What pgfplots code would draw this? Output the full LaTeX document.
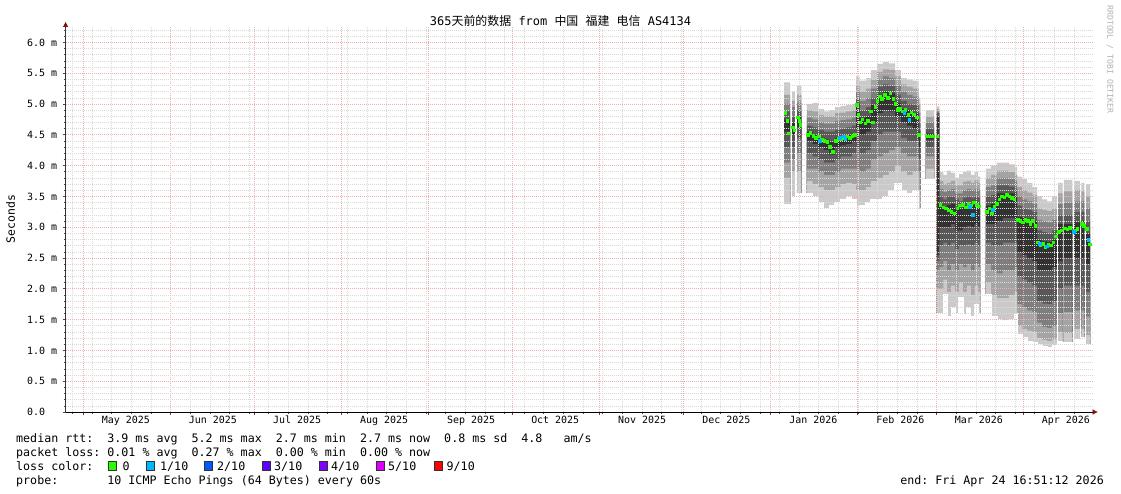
\documentclass[border=0pt]{standalone}
\usepackage{fontspec}
\setmainfont{DejaVu Sans Mono}
\newfontfamily\cjk{Noto Sans CJK SC}
\usepackage{pgfplots}
\usepackage{pgfplotstable}
\pgfplotsset{compat=1.18}
\usetikzlibrary{arrows.meta}

\definecolor{sA}{RGB}{202,202,202}
\definecolor{sB}{RGB}{164,164,164}
\definecolor{sC}{RGB}{126,126,126}
\definecolor{sD}{RGB}{88,88,88}
\definecolor{sE}{RGB}{50,50,50}
\definecolor{l0}{RGB}{38,255,0}
\definecolor{l1}{RGB}{0,184,255}
\definecolor{l2}{RGB}{0,89,255}
\definecolor{l3}{RGB}{94,0,255}
\definecolor{l4}{RGB}{126,0,255}
\definecolor{l5}{RGB}{221,0,255}
\definecolor{l9}{RGB}{255,0,0}
\definecolor{mgrid}{RGB}{242,175,175}
\definecolor{ngrid}{RGB}{218,218,218}
\definecolor{arrowred}{RGB}{128,20,20}

\pgfplotstableread{
x p1 p2 p3 p4 p5 p6 p7 p8 p9 p10
256.1 3.36 3.80 4.05 4.30 4.55 4.75 4.88 5.00 5.15 5.35
258.2 0 0 0 0 0 0 0 0 0 0
258.9 3.50 3.90 4.10 4.30 4.50 4.70 4.80 4.95 5.05 5.20
259.9 0 0 0 0 0 0 0 0 0 0
260.7 3.55 3.90 4.20 4.45 4.62 4.80 4.90 5.02 5.15 5.30
262.2 0 0 0 0 0 0 0 0 0 0
264.2 3.55 3.75 3.95 4.20 4.40 4.55 4.65 4.78 4.90 5.00
266.2 3.50 3.70 3.95 4.15 4.35 4.50 4.62 4.75 4.88 5.02
268.2 3.40 3.65 3.90 4.10 4.30 4.45 4.58 4.70 4.82 4.92
270.2 3.30 3.60 3.85 4.05 4.25 4.42 4.55 4.68 4.80 4.88
272.2 3.35 3.60 3.85 4.05 4.18 4.38 4.55 4.68 4.80 4.90
274.2 3.40 3.65 3.90 4.10 4.30 4.45 4.58 4.72 4.85 4.95
276.2 3.45 3.70 3.95 4.15 4.33 4.48 4.60 4.74 4.86 4.97
278.2 3.50 3.72 3.95 4.15 4.35 4.50 4.62 4.75 4.88 4.98
280.2 3.45 3.70 3.95 4.20 4.38 4.52 4.65 4.78 4.90 5.00
281.7 3.33 3.60 3.95 4.30 4.60 5.00 5.10 5.20 5.30 5.45
283.0 3.35 3.60 3.90 4.20 4.50 4.78 4.90 5.05 5.20 5.38
285.2 3.40 3.65 3.95 4.25 4.55 4.80 4.95 5.10 5.25 5.42
287.0 3.45 3.75 4.10 4.40 4.70 4.98 5.10 5.25 5.40 5.55
289.2 3.45 3.80 4.15 4.50 4.85 5.15 5.28 5.40 5.52 5.65
291.3 3.50 3.85 4.20 4.55 4.90 5.20 5.32 5.45 5.56 5.68
293.4 3.60 3.90 4.25 4.55 4.88 5.18 5.30 5.42 5.55 5.66
295.6 3.70 4.00 4.30 4.55 4.80 5.02 5.15 5.30 5.45 5.55
297.7 3.60 3.90 4.20 4.45 4.70 4.92 5.05 5.20 5.32 5.42
299.8 3.55 3.85 4.15 4.40 4.65 4.90 5.00 5.15 5.28 5.40
301.9 3.60 3.90 4.15 4.40 4.60 4.85 4.98 5.12 5.25 5.38
304.0 3.28 3.60 3.90 4.10 4.30 4.55 4.70 4.85 5.00 5.10
304.6 0 0 0 0 0 0 0 0 0 0
306.6 3.77 3.95 4.15 4.30 4.42 4.52 4.60 4.70 4.80 4.90
309.5 0 0 0 0 0 0 0 0 0 0
310.4 1.60 2.00 2.30 2.45 2.55 4.80 4.85 4.88 4.92 4.96
311.4 1.60 2.00 2.35 2.70 3.00 3.35 3.50 3.62 3.75 3.90
312.8 1.90 2.15 2.45 2.75 3.00 3.33 3.45 3.57 3.70 3.85
314.2 1.55 1.95 2.30 2.70 3.00 3.36 3.50 3.60 3.72 3.92
315.6 1.70 2.05 2.40 2.75 3.05 3.38 3.50 3.62 3.75 3.88
317.0 1.60 1.95 2.30 2.65 2.95 3.30 3.45 3.55 3.68 3.80
318.4 1.85 2.10 2.40 2.70 2.95 3.30 3.42 3.55 3.68 3.86
319.8 1.58 1.95 2.35 2.70 3.00 3.35 3.48 3.60 3.74 3.90
321.2 1.70 2.05 2.40 2.72 3.02 3.38 3.50 3.62 3.75 3.92
322.6 1.55 1.90 2.30 2.70 3.00 3.36 3.48 3.60 3.72 3.85
324.0 1.75 2.05 2.40 2.75 3.05 3.40 3.50 3.62 3.76 3.90
325.2 1.60 1.95 2.35 2.70 3.00 3.35 3.48 3.60 3.72 3.82
325.9 0 0 0 0 0 0 0 0 0 0
328.0 1.90 2.10 2.40 2.75 3.05 3.35 3.50 3.65 3.80 3.95
329.8 1.55 1.90 2.30 2.70 3.05 3.38 3.52 3.68 3.85 4.00
331.9 1.50 1.85 2.25 2.70 3.10 3.55 3.68 3.80 3.92 4.05
334.0 1.48 1.85 2.30 2.75 3.15 3.55 3.68 3.80 3.92 4.05
336.2 1.50 1.90 2.30 2.75 3.15 3.55 3.66 3.78 3.90 4.02
338.3 1.60 1.95 2.35 2.75 3.10 3.50 3.62 3.74 3.85 3.98
339.1 1.25 1.40 1.75 2.20 2.60 3.17 3.35 3.50 3.65 3.82
340.9 1.20 1.35 1.70 2.15 2.55 3.15 3.30 3.45 3.60 3.78
342.7 1.15 1.32 1.65 2.10 2.50 3.13 3.28 3.42 3.56 3.72
344.5 1.12 1.30 1.62 2.05 2.45 3.10 3.25 3.38 3.52 3.65
346.2 1.10 1.20 1.45 1.80 2.30 2.80 2.95 3.12 3.30 3.50
348.0 1.06 1.17 1.38 1.76 2.30 2.77 2.92 3.10 3.28 3.45
349.8 1.05 1.15 1.36 1.75 2.30 2.76 2.90 3.08 3.26 3.42
351.6 1.07 1.18 1.40 1.80 2.35 2.80 2.95 3.12 3.30 3.50
353.3 0 0 0 0 0 0 0 0 0 0
353.7 1.15 1.30 1.60 2.00 2.45 3.05 3.20 3.38 3.55 3.72
355.3 0 0 0 0 0 0 0 0 0 0
355.8 1.12 1.28 1.62 2.05 2.50 3.05 3.20 3.40 3.58 3.77
358.8 0 0 0 0 0 0 0 0 0 0
359.4 1.18 1.35 1.65 2.05 2.50 3.08 3.25 3.42 3.60 3.75
361.5 0 0 0 0 0 0 0 0 0 0
362.0 1.20 1.35 1.65 2.05 2.50 3.10 3.25 3.42 3.58 3.72
363.1 0 0 0 0 0 0 0 0 0 0
363.7 1.10 1.25 1.55 1.95 2.40 2.90 3.10 3.30 3.50 3.70
365.1 0 0 0 0 0 0 0 0 0 0
}\smoke

\pgfplotstableread{
x y
256.6 4.85
257.2 4.72
257.8 4.52
259.3 4.62
259.7 4.57
261.0 4.78
261.5 4.72
261.9 4.66
264.5 4.50
265.5 4.53
266.5 4.48
267.5 4.45
268.5 4.47
269.5 4.42
270.5 4.40
271.5 4.38
272.5 4.30
273.5 4.22
274.5 4.40
275.5 4.43
276.5 4.42
277.5 4.45
278.5 4.47
279.5 4.45
280.5 4.47
281.3 4.50
282.0 4.98
282.6 4.82
283.3 4.70
284.0 4.75
285.0 4.68
286.0 4.72
287.0 4.88
287.8 4.70
288.6 4.95
289.4 5.05
290.2 5.12
291.0 5.08
292.0 5.15
293.0 5.10
294.0 5.17
295.0 5.08
295.8 5.00
296.6 4.90
297.4 4.93
298.4 4.88
299.4 4.90
300.4 4.82
301.4 4.86
302.4 4.83
303.4 4.78
304.2 4.50
306.8 4.47
307.6 4.47
308.4 4.47
309.2 4.47
310.7 4.47
311.8 3.36
312.8 3.32
313.8 3.30
314.8 3.27
315.8 3.25
316.8 3.22
317.8 3.30
318.8 3.35
319.8 3.36
320.8 3.32
321.8 3.38
322.8 3.35
323.8 3.40
324.8 3.36
325.5 3.34
328.3 3.25
329.2 3.30
330.1 3.22
331.0 3.33
331.9 3.38
332.8 3.45
333.7 3.50
334.6 3.48
335.5 3.52
336.4 3.50
337.3 3.47
338.2 3.45
339.4 3.12
340.3 3.10
341.2 3.08
342.1 3.12
343.0 3.10
343.9 3.05
344.8 3.10
345.7 3.02
346.6 2.75
347.5 2.70
348.4 2.73
349.3 2.68
350.2 2.72
351.1 2.70
352.0 2.75
352.9 2.85
354.0 2.92
355.0 2.95
356.2 2.98
357.1 2.96
358.0 2.99
359.8 2.95
360.7 2.97
362.3 3.05
362.9 3.02
364.0 2.97
365.0 2.72
}\medgreen

\pgfplotstableread{
x y
268.8 4.40
275.9 4.45
277.4 4.47
277.9 4.42
299.0 4.85
300.8 4.74
322.4 3.33
323.4 3.20
330.5 3.28
347.3 2.73
349.8 2.69
359.4 2.92
364.6 2.79
}\medcyan

\begin{document}
\begin{tikzpicture}
\useasboundingbox (0,0) rectangle (1121bp,494bp);
\begin{axis}[
  at={(65.6bp,82bp)}, anchor=south west,
  scale only axis, width=1027bp, height=385bp,
  xmin=0, xmax=366, ymin=0, ymax=6.25,
  axis lines=left, axis on top,
  x axis line style={black, line width=0.8bp, -{Triangle[length=5bp,width=5bp,color=arrowred]}, shorten >=-5bp},
  y axis line style={black!80, line width=0.8bp, -{Triangle[length=5bp,width=5bp,color=arrowred]}, shorten >=-5bp},
  xtick={6.3,37.3,67.3,98.3,129.3,159.3,190.3,220.3,251.3,282.3,310.3,341.3},
  xticklabels={},
  minor xtick={2.4,9.4,...,366},
  extra x ticks={21.5,52.5,82.5,113.5,144.5,174.5,205.5,235.5,266.5,297.5,325.5,356.5},
  extra x tick labels={May 2025,Jun 2025,Jul 2025,Aug 2025,Sep 2025,Oct 2025,Nov 2025,Dec 2025,Jan 2026,Feb 2026,Mar 2026,Apr 2026},
  extra x tick style={grid=none, major tick length=0pt},
  ytick={0,0.5,...,6},
  yticklabels={0.0,0.5 m,1.0 m,1.5 m,2.0 m,2.5 m,3.0 m,3.5 m,4.0 m,4.5 m,5.0 m,5.5 m,6.0 m},
  minor y tick num=4,
  extra y ticks={6.1,6.2},
  extra y tick labels={},
  extra y tick style={major grid style={ngrid, line width=0.6bp, dash pattern=on 1bp off 1bp}, major tick length=2bp},
  xmajorgrids, ymajorgrids, xminorgrids, yminorgrids,
  major grid style={mgrid, line width=0.6bp, dash pattern=on 1bp off 1bp},
  minor grid style={ngrid, line width=0.6bp, dash pattern=on 1bp off 1bp},
  tick align=outside,
  major tick length=3bp, minor tick length=2bp,
  tick style={black!70, line width=0.6bp},
  xticklabel style={font=\fontsize{10}{12}\selectfont, anchor=north, inner sep=0pt, yshift=-4bp},
  yticklabel style={font=\fontsize{10}{12}\selectfont, anchor=west, inner sep=0pt, xshift=-35.6bp},
]
\addplot[const plot, draw=none, fill=sA] table[x=x,y=p10]{\smoke} \closedcycle;
\addplot[const plot, draw=none, fill=sB] table[x=x,y=p9]{\smoke} \closedcycle;
\addplot[const plot, draw=none, fill=sC] table[x=x,y=p8]{\smoke} \closedcycle;
\addplot[const plot, draw=none, fill=sD] table[x=x,y=p7]{\smoke} \closedcycle;
\addplot[const plot, draw=none, fill=sE] table[x=x,y=p6]{\smoke} \closedcycle;
\addplot[const plot, draw=none, fill=sD] table[x=x,y=p5]{\smoke} \closedcycle;
\addplot[const plot, draw=none, fill=sC] table[x=x,y=p4]{\smoke} \closedcycle;
\addplot[const plot, draw=none, fill=sB] table[x=x,y=p3]{\smoke} \closedcycle;
\addplot[const plot, draw=none, fill=sA] table[x=x,y=p2]{\smoke} \closedcycle;
\addplot[const plot, draw=white, line width=1.2bp, fill=white] table[x=x,y=p1]{\smoke} \closedcycle;
\addplot[l0, only marks, mark=square*, mark size=1.25bp, mark options={draw=l0, fill=l0, line width=0pt}] table[x=x,y=y]{\medgreen};
\addplot[l1, only marks, mark=square*, mark size=1.25bp, mark options={draw=l1, fill=l1, line width=0pt}] table[x=x,y=y]{\medcyan};
\end{axis}

% title and labels
\node[anchor=base, inner sep=0pt, font=\fontsize{12}{14}\selectfont] at (560.5bp,468.5bp)
  {365{\cjk 天前的数据}~from~{\cjk 中国}~{\cjk 福建}~{\cjk 电信}~AS4134};
\node[rotate=90, inner sep=0pt, font=\fontsize{11.5}{13}\selectfont] at (10.5bp,275bp) {Seconds};
\node[rotate=-90, inner sep=0pt, text=black!30, font=\fontsize{8.2}{10}\selectfont] at (1110bp,434.5bp) {RRDTOOL~/~TOBI~OETIKER};

% bottom legend text
\begin{scope}[every node/.style={inner sep=0pt, font=\fontsize{11.7}{14}\selectfont}]
\node[anchor=base west] at (16bp,51.7bp) {median~rtt:~~3.9~ms~avg~~5.2~ms~max~~2.7~ms~min~~2.7~ms~now~~0.8~ms~sd~~4.8~~~am/s};
\node[anchor=base west] at (16bp,37.7bp) {packet~loss:~0.01~\%~avg~~0.27~\%~max~~0.00~\%~min~~0.00~\%~now};
\node[anchor=base west] at (16bp,23.7bp) {loss~color:};
\node[anchor=base west] at (122.5bp,23.7bp) {0};
\node[anchor=base west] at (160bp,23.7bp) {1/10};
\node[anchor=base west] at (217bp,23.7bp) {2/10};
\node[anchor=base west] at (274bp,23.7bp) {3/10};
\node[anchor=base west] at (331bp,23.7bp) {4/10};
\node[anchor=base west] at (388bp,23.7bp) {5/10};
\node[anchor=base west] at (446.5bp,23.7bp) {9/10};
\node[anchor=base west] at (16bp,9.7bp) {probe:~~~~~~~10~ICMP~Echo~Pings~(64~Bytes)~every~60s};
\node[anchor=base east] at (1104bp,9.7bp) {end:~Fri~Apr~24~16:51:12~2026};
\end{scope}
\begin{scope}[line width=0.6bp, draw=black!80]
\draw[fill=l0] (108.5bp,24bp) rectangle (116.5bp,32.5bp);
\draw[fill=l1] (146bp,24bp) rectangle (154bp,32.5bp);
\draw[fill=l2] (204.5bp,24bp) rectangle (212.5bp,32.5bp);
\draw[fill=l3] (262bp,24bp) rectangle (270bp,32.5bp);
\draw[fill=l4] (319.5bp,24bp) rectangle (327.5bp,32.5bp);
\draw[fill=l5] (376bp,24bp) rectangle (384bp,32.5bp);
\draw[fill=l9] (434.5bp,24bp) rectangle (442.5bp,32.5bp);
\end{scope}
\end{tikzpicture}
\end{document}
